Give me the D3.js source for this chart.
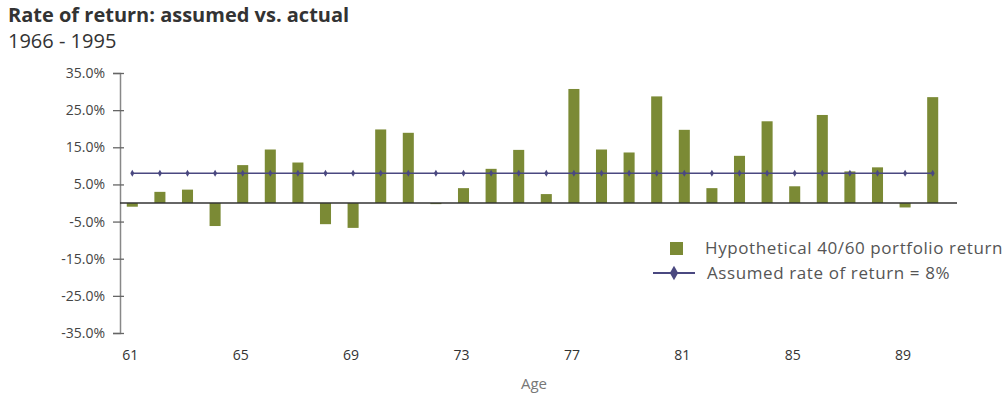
<!DOCTYPE html>
<html>
<head>
<meta charset="utf-8">
<script src="https://cdn.jsdelivr.net/npm/d3@7.9.0/dist/d3.min.js"></script>
<style>
  body { margin: 0; background: #fff; }
  svg { display: block; font-family: 'Open Sans', sans-serif; }
</style>
</head>
<body>
<div id="chart"></div>
<script>
// ages 61..90 (years 1966-1995)
const ages = d3.range(61, 91);
const returns = [
  -1.0, 3.0, 3.6, -6.2, 10.2, 14.4, 10.9, -5.7, -6.7, 19.8,
  18.9, -0.3, 4.0, 9.2, 14.3, 2.4, 30.7, 14.4, 13.6, 28.7,
  19.7, 4.0, 12.7, 22.0, 4.5, 23.7, 8.5, 9.6, -1.2, 28.5
];
const assumedRate = 8;
const yTicks = [35, 25, 15, 5, -5, -15, -25, -35];
const xTickAges = [61, 65, 69, 73, 77, 81, 85, 89];
const legendLabels = ['Hypothetical 40/60 portfolio return', 'Assumed rate of return = 8%'];

const width = 1008, height = 396;
const barColor = '#7b8a35';
const lineColor = '#4a4880';

const svg = d3.select('#chart').append('svg')
  .attr('width', width)
  .attr('height', height);

// title
svg.append('text')
  .attr('x', 8).attr('y', 22)
  .attr('font-family', 'Open Sans, sans-serif')
  .attr('font-weight', 'bold')
  .attr('font-size', 20)
  .attr('fill', '#333')
  .text('Rate of return: assumed vs. actual');

svg.append('text')
  .attr('x', 8).attr('y', 48)
  .attr('font-size', 20)
  .attr('fill', '#333')
  .text('1966 - 1995');

// scales
const x = d3.scaleBand()
  .domain(ages)
  .range([118.5, 946.5])
  .paddingInner(0.6)
  .paddingOuter(0.3);

const y = d3.scaleLinear()
  .domain([-35, 35])
  .range([333, 73]);

// y axis
const yAxis = svg.append('g')
  .attr('transform', 'translate(120,0)')
  .call(d3.axisLeft(y)
    .tickValues(yTicks)
    .tickSize(7)
    .tickPadding(8)
    .tickFormat(d => d.toFixed(1) + '%'));

yAxis.select('.domain').attr('stroke', '#888').attr('stroke-width', 1.5);
yAxis.selectAll('.tick line').attr('x1', 4).attr('stroke', '#666').attr('stroke-width', 1.3);
yAxis.selectAll('.tick text')
  .attr('font-size', 14)
  .attr('font-family', 'Open Sans, sans-serif')
  .attr('fill', '#444');

// bars
svg.append('g')
  .selectAll('rect')
  .data(ages.map((a, i) => ({ age: a, value: returns[i] })))
  .join('rect')
  .attr('x', d => x(d.age))
  .attr('width', x.bandwidth())
  .attr('y', d => y(Math.max(0, d.value)))
  .attr('height', d => Math.abs(y(d.value) - y(0)))
  .attr('fill', barColor);

// zero baseline
svg.append('line')
  .attr('x1', 120).attr('x2', 957)
  .attr('y1', y(0)).attr('y2', y(0))
  .attr('stroke', '#333')
  .attr('stroke-width', 1.5);

// assumed rate line
const center = a => x(a) + x.bandwidth() / 2;
svg.append('path')
  .datum(ages)
  .attr('fill', 'none')
  .attr('stroke', lineColor)
  .attr('stroke-width', 1.5)
  .attr('d', d3.line().x(center).y(() => y(assumedRate)));

svg.append('g')
  .selectAll('path')
  .data(ages)
  .join('path')
  .attr('transform', a => `translate(${center(a)},${y(assumedRate)})`)
  .attr('d', d3.symbol(d3.symbolDiamond, 14))
  .attr('fill', lineColor);

// x axis labels
const xAxis = svg.append('g')
  .attr('transform', 'translate(-2,350)')
  .call(d3.axisBottom(x).tickValues(xTickAges).tickSize(0).tickPadding(0));
xAxis.select('.domain').remove();
xAxis.selectAll('.tick text')
  .attr('font-size', 14)
  .attr('font-family', 'Open Sans, sans-serif')
  .attr('fill', '#333');

svg.append('text')
  .attr('x', 534).attr('y', 389)
  .attr('text-anchor', 'middle')
  .attr('font-size', 15)
  .attr('fill', '#777')
  .text('Age');

// legend
const legend = svg.append('g')
  .attr('font-size', 17)
  .attr('letter-spacing', 0.6)
  .attr('fill', '#555');
legend.append('rect')
  .attr('x', 670).attr('y', 242)
  .attr('width', 13).attr('height', 13)
  .attr('fill', barColor);
legend.append('text')
  .attr('x', 705).attr('y', 254)
  .text(legendLabels[0]);

legend.append('line')
  .attr('x1', 653).attr('x2', 695)
  .attr('y1', 273).attr('y2', 273)
  .attr('stroke', lineColor)
  .attr('stroke-width', 2);
legend.append('path')
  .attr('transform', 'translate(674,273)')
  .attr('d', d3.symbol(d3.symbolDiamond, 60))
  .attr('fill', lineColor);
legend.append('text')
  .attr('x', 707).attr('y', 279)
  .text(legendLabels[1]);
</script>
</body>
</html>
